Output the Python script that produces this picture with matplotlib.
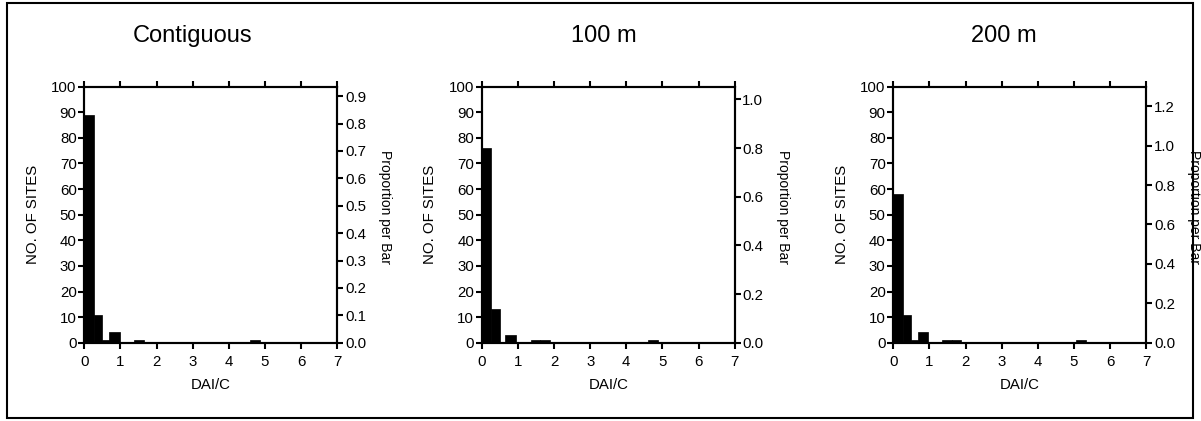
import matplotlib
matplotlib.use("Agg")
import matplotlib.pyplot as plt
from matplotlib.patches import Rectangle

plt.rcParams['font.family'] = ['Liberation Sans', 'DejaVu Sans']

titles = ["Contiguous", "100 m", "200 m"]
x_label = "DAI/C"
y_label = "NO. OF SITES"
y2_label = "Proportion per Bar"

# histogram bars: left edges, widths, counts
lefts_contig = [0.0, 0.27, 0.50, 0.68, 1.37, 4.58]
widths_contig = [0.27, 0.23, 0.18, 0.30, 0.29, 0.29]
counts_contig = [89, 11, 1, 4, 1, 1]

lefts_100 = [0.0, 0.27, 0.65, 1.36, 1.62, 4.59]
widths_100 = [0.27, 0.23, 0.29, 0.26, 0.26, 0.29]
counts_100 = [76, 13, 3, 1, 1, 1]

lefts_200 = [0.0, 0.255, 0.50, 0.68, 1.36, 1.62, 5.05]
widths_200 = [0.255, 0.245, 0.18, 0.29, 0.26, 0.26, 0.28]
counts_200 = [58, 11, 1, 4, 1, 1, 1]

y2_ticks_contig = [0.0, 0.1, 0.2, 0.3, 0.4, 0.5, 0.6, 0.7, 0.8, 0.9]
y2_ticks_100 = [0.0, 0.2, 0.4, 0.6, 0.8, 1.0]
y2_ticks_200 = [0.0, 0.2, 0.4, 0.6, 0.8, 1.0, 1.2]

x_ticks = [0, 1, 2, 3, 4, 5, 6, 7]
y_ticks = list(range(0, 101, 10))

panels = [
    (titles[0], lefts_contig, widths_contig, counts_contig, y2_ticks_contig, "{:.1f}"),
    (titles[1], lefts_100, widths_100, counts_100, y2_ticks_100, "{:.1f}"),
    (titles[2], lefts_200, widths_200, counts_200, y2_ticks_200, "{:.1f}"),
]

W, H = 1201, 421
fig = plt.figure(figsize=(W / 100, H / 100), dpi=100)

ax_lefts_px = [84.3, 481.7, 893.3]
ax_w_px = 253.0
ax_top_px, ax_bot_px = 86.7, 342.7
title_x_px = [192.5, 604.0, 1004.0]

lw = 1.5
fs = 10.8

for i, (title, lefts, widths, counts, y2t, fmt) in enumerate(panels):
    ax = fig.add_axes([ax_lefts_px[i] / W, 1 - ax_bot_px / H,
                       ax_w_px / W, (ax_bot_px - ax_top_px) / H])
    ax.bar(lefts, counts, width=widths, align='edge', color='black',
           edgecolor='black', linewidth=0.5)
    ax.set_xlim(0, 7)
    ax.set_ylim(0, 100)
    ax.set_xticks(x_ticks)
    ax.set_yticks(y_ticks)
    for s in ax.spines.values():
        s.set_linewidth(lw)
    ax.tick_params(axis='x', which='both', direction='out', length=4.5, width=lw,
                   top=True, labeltop=False, pad=4.5, labelsize=fs)
    ax.tick_params(axis='y', direction='out', length=4, width=lw, pad=1.5,
                   labelsize=fs, right=False)
    total = sum(counts)
    ax2 = ax.twinx()
    ax2.set_ylim(0, 100 / total)
    ax2.set_yticks(y2t)
    ax2.set_yticklabels([fmt.format(v) for v in y2t])
    ax2.tick_params(axis='y', direction='out', length=4, width=lw, pad=1.5,
                    labelsize=fs)
    for s in ax2.spines.values():
        s.set_linewidth(lw)

    ax.text(-51.3 / ax_w_px, 0.5, y_label, transform=ax.transAxes, rotation=90,
            ha='center', va='center', fontsize=fs)
    ax.text(1 + 48.0 / ax_w_px, 0.53, y2_label, transform=ax.transAxes,
            rotation=-90, ha='center', va='center', fontsize=10)
    ax.text(0.5, -42.3 / (ax_bot_px - ax_top_px), x_label, transform=ax.transAxes,
            ha='center', va='center', fontsize=fs)
    fig.text(title_x_px[i] / W, 1 - 36 / H, title, ha='center', va='center',
             fontsize=17)

fig.patches.append(Rectangle((7 / W, 1 - 418 / H), (1193 - 7) / W, (418 - 3) / H,
                             transform=fig.transFigure, fill=False,
                             edgecolor='black', linewidth=1.5))

fig.savefig("out.png", dpi=100)
